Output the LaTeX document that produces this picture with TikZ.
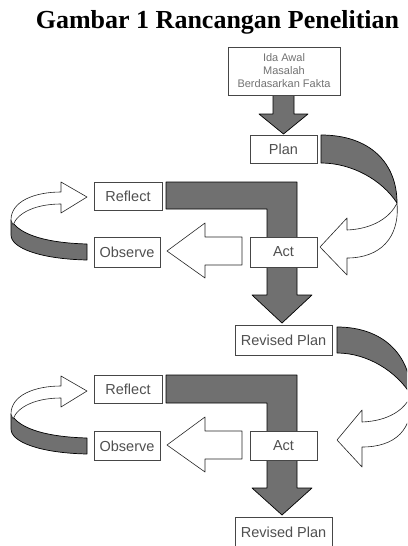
\documentclass[tikz,border=0pt]{standalone}
\usepackage{fontspec}
\setmainfont{Liberation Serif}
\newfontfamily\boxfont{Liberation Sans}
\usepackage{xcolor}
\definecolor{bandgray}{RGB}{112,112,112}
\definecolor{boxline}{RGB}{70,70,70}
\definecolor{boxtext}{RGB}{80,80,80}

\begin{document}
\begin{tikzpicture}[x=1pt,y=-1pt,
    box/.style={draw=boxline,line width=0.8pt,fill=white,inner sep=0pt,text=boxtext,font=\boxfont\fontsize{14.5}{16}\selectfont},
    band/.style={fill=bandgray,draw=black,line width=0.7pt,line join=round},
    hollow/.style={fill=white,draw=black!85,line width=0.6pt,line join=round}]
        \useasboundingbox (0,0) rectangle (407,546);
        \clip (0,0) rectangle (407,546);
        \node[font=\bfseries\fontsize{26}{28}\selectfont,anchor=base] (title) at (217.5,28.5) {Gambar 1 Rancangan Penelitian};
        \draw[band] (273,95) -- (294,95) -- (294,114) -- (308,114) -- (283.5,134) -- (259,114) -- (273,114) -- cycle;
        \draw[band] (166,182) -- (297,182) -- (297,295) -- (312,295) -- (282,323) -- (252,295) -- (267,295) -- (267,209) -- (166,209) -- cycle;
        \draw[band] (166,375) -- (297,375) -- (297,488) -- (312,488) -- (282,515) -- (252,488) -- (267,488) -- (267,403) -- (166,403) -- cycle;
        \draw[hollow] (242,237) -- (242,265) -- (205,265) -- (205,278) -- (167,251) -- (205,223) -- (205,237) -- cycle;
        \draw[hollow] (242,431) -- (242,459) -- (205,459) -- (205,472) -- (167,445) -- (205,417) -- (205,431) -- cycle;
        \draw[band] (321,135) .. controls (370,135) and (397,163) .. (397,203) .. controls (382,180) and (352,163) .. (321,163) -- cycle;
        \draw[hollow] (397,203) .. controls (400,238) and (380,258) .. (347,258) -- (347,275) -- (320,247) -- (347,218) -- (347,230) .. controls (372,229) and (390,218) .. (397,203) -- cycle;
        \draw[band] (337,327) .. controls (384,327) and (411,356) .. (411,395) .. controls (397,372) and (368,353) .. (337,353) -- cycle;
        \draw[hollow] (411,395) .. controls (414,430) and (395,447) .. (362,447) -- (362,467) -- (337,440) -- (362,410) -- (362,422) .. controls (388,421) and (405,410) .. (411,395) -- cycle;
        \draw[band] (87,244) -- (87,260) .. controls (40,259) and (11,248) .. (11,235) -- (11,220) .. controls (20,236) and (50,243) .. (87,244) -- cycle;
        \draw[hollow] (11,220) .. controls (11,201) and (35,192) .. (61,192) -- (61,182) -- (87,197) -- (61,213) -- (61,204) .. controls (37,204) and (18,212) .. (13,225) -- cycle;
        \draw[band] (87,438) -- (87,454) .. controls (40,453) and (11,442) .. (11,429) -- (11,414) .. controls (20,430) and (50,437) .. (87,438) -- cycle;
        \draw[hollow] (11,414) .. controls (11,395) and (35,386) .. (61,386) -- (61,376) -- (87,391) -- (61,407) -- (61,398) .. controls (37,398) and (18,406) .. (13,419) -- cycle;
        \node[box,minimum width=112,minimum height=48,align=center,text=black!55,font=\boxfont\fontsize{11}{13}\selectfont] (idea) at (284,71) {Ida Awal\\Masalah\\Berdasarkan Fakta};
        \node[box,minimum width=67,minimum height=28] (plan) at (283.5,149) {Plan};
        \node[box,minimum width=68,minimum height=28] (reflect) at (128,196) {Reflect};
        \node[box,minimum width=66,minimum height=30] (observe) at (127,252) {Observe};
        \node[box,minimum width=67,minimum height=30] (act) at (283.5,252) {Act};
        \node[box,minimum width=97,minimum height=30] (revplan) at (283.5,340) {Revised Plan};
        \node[box,minimum width=68,minimum height=28] (reflecttwo) at (128,389) {Reflect};
        \node[box,minimum width=66,minimum height=29] (observetwo) at (127,446) {Observe};
        \node[box,minimum width=67,minimum height=29] (acttwo) at (283.5,446) {Act};
        \node[box,minimum width=97,minimum height=30] (revplantwo) at (283.5,532) {Revised Plan};
    \end{tikzpicture}
\end{document}
